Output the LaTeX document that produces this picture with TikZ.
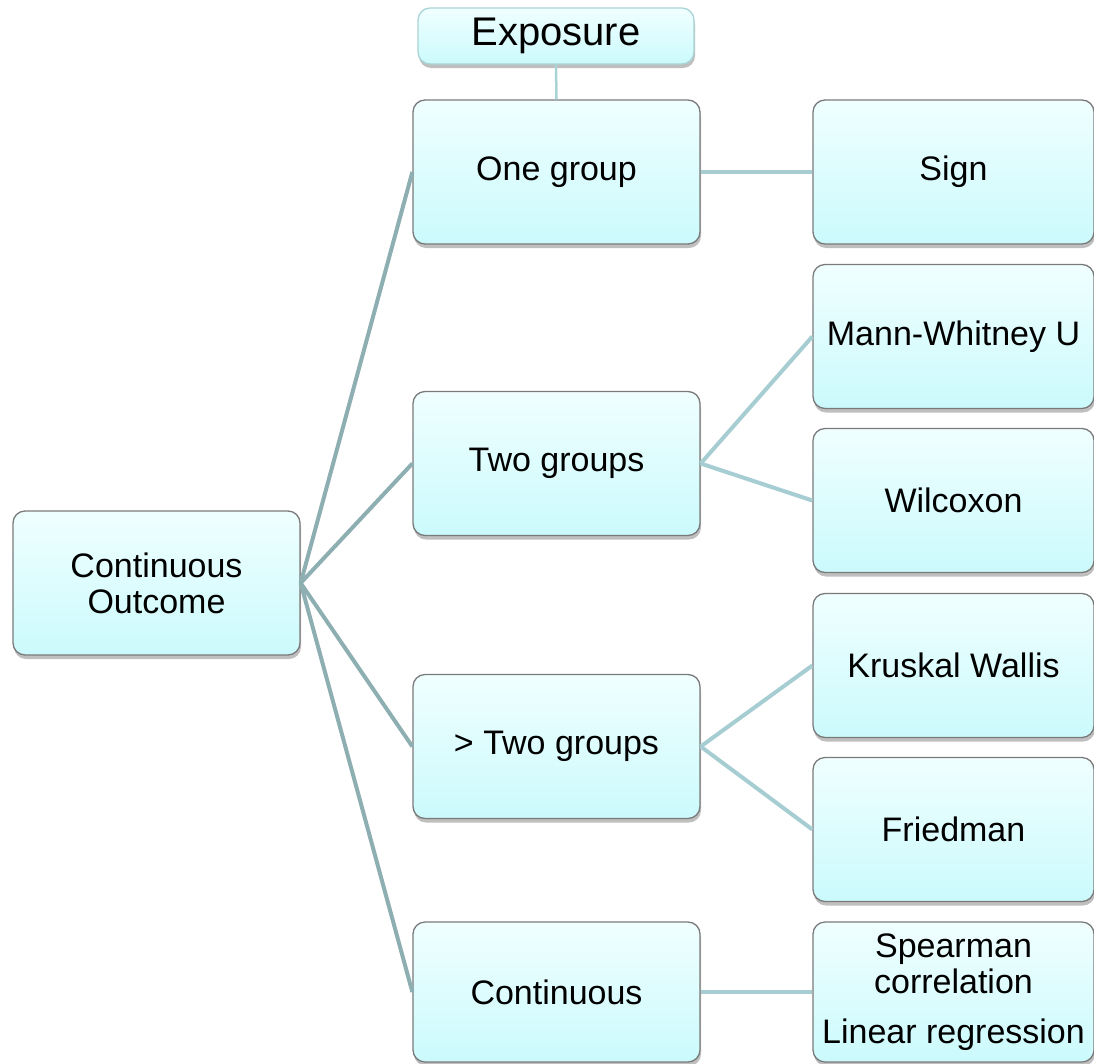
\documentclass[tikz,border=0pt]{standalone}
\usepackage{fontspec}
\setmainfont{Liberation Sans}
\usetikzlibrary{shadows}
\definecolor{boxtop}{HTML}{F0FFFF}
\definecolor{boxbot}{HTML}{CBFAFC}
\definecolor{boxline}{HTML}{7A7A7A}
\definecolor{expline}{HTML}{A9D4D6}
\definecolor{leftline}{HTML}{8EAFB2}
\definecolor{rightline}{HTML}{A6CDD1}
\tikzset{
  box/.style={rectangle, rounded corners=12pt, draw=boxline, line width=1.3pt,
    top color=boxtop, bottom color=boxbot, align=center,
    font=\fontsize{34}{36}\selectfont, inner sep=0pt,
    drop shadow={shadow xshift=1pt, shadow yshift=-4pt, opacity=0.25, fill=black}},
  midbox/.style={box, minimum width=287pt, minimum height=144pt},
  rbox/.style={box, minimum width=281pt, minimum height=144pt},
  expbox/.style={box, draw=expline, minimum width=276pt, minimum height=56pt,
    font=\fontsize{40}{44}\selectfont},
  lconn/.style={draw=leftline, line width=4pt},
  rconn/.style={draw=rightline, line width=4pt},
  econn/.style={draw=expline, line width=2.5pt}
}
\begin{document}
\begin{tikzpicture}[x=1pt,y=-1pt]
\useasboundingbox (0,0) rectangle (1094,1063);
\node[expbox] (exp) at (556,36) {Exposure};
\node[midbox] (co) at (156.5,583) {Continuous\\Outcome};
\node[midbox] (one) at (556.5,172) {One group};
\node[midbox] (two) at (556.5,463.5) {Two groups};
\node[midbox] (gt) at (556.5,746.5) {> Two groups};
\node[midbox, minimum height=140pt] (cont) at (556.5,992) {Continuous};
\node[rbox] (sign) at (953.5,172) {Sign};
\node[rbox] (mw) at (953.5,336.5) {Mann-Whitney U};
\node[rbox] (wil) at (953.5,500.5) {Wilcoxon};
\node[rbox] (kw) at (953.5,665.5) {Kruskal Wallis};
\node[rbox] (fr) at (953.5,829.5) {Friedman};
\node[rbox, minimum height=140pt] (sp) at (953.5,992) {Spearman\\correlation\\[14pt]Linear regression};
\draw[econn] (exp.south) -- (one.north);
\draw[lconn] (co.east) -- (one.west);
\draw[lconn] (co.east) -- (two.west);
\draw[lconn] (co.east) -- (gt.west);
\draw[lconn] (co.east) -- (cont.west);
\draw[rconn] (one.east) -- (sign.west);
\draw[rconn] (two.east) -- (mw.west);
\draw[rconn] (two.east) -- (wil.west);
\draw[rconn] (gt.east) -- (kw.west);
\draw[rconn] (gt.east) -- (fr.west);
\draw[rconn] (cont.east) -- (sp.west);
\end{tikzpicture}
\end{document}
